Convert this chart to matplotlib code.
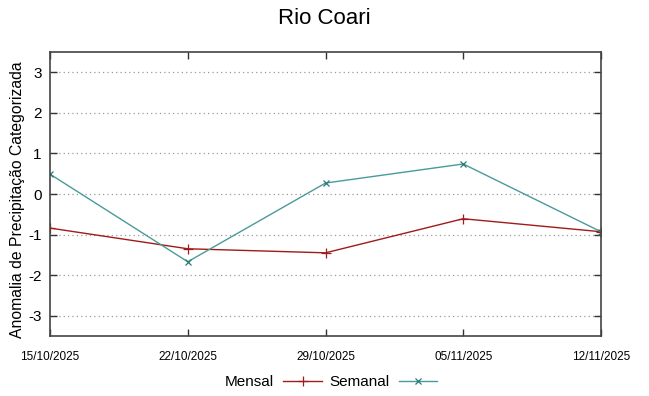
import matplotlib
matplotlib.use("Agg")
import matplotlib.pyplot as plt
from matplotlib.ticker import MultipleLocator

dates = ["15/10/2025", "22/10/2025", "29/10/2025", "05/11/2025", "12/11/2025"]
mensal = [-0.84, -1.35, -1.45, -0.61, -0.93]
semanal = [0.49, -1.67, 0.27, 0.74, -0.93]

plt.rcParams['font.family'] = ['Liberation Sans', 'DejaVu Sans']
plt.rcParams['axes.unicode_minus'] = False

fig = plt.figure(figsize=(6.49, 3.96), dpi=100)
ax = fig.add_axes([50/649, 1-336/396, 551/649, 284/396])

x = list(range(len(dates)))
ax.plot(x, mensal, color='#a11a1a', lw=1.0, marker='+', ms=7, mew=0.9, label='Mensal')
ax.plot(x, semanal, color='#4a9a9a', lw=1.0, marker='x', ms=5, mew=0.9, label='Semanal',
        markeredgecolor='#2a7a7a')

ax.set_xlim(0, 4)
ax.set_ylim(-3.5, 3.5)
ax.set_xticks(x)
ax.set_xticklabels(dates, fontsize=8.5)
ax.yaxis.set_major_locator(MultipleLocator(1))
ax.tick_params(axis='y', labelsize=11, pad=6)
ax.tick_params(direction='in', top=True, right=True, length=5, width=1, color='#333333')
ax.tick_params(axis='x', pad=11)
ax.grid(axis='y', linestyle=(0, (1, 2.5)), color='#999999', lw=0.9)
for s in ax.spines.values():
    s.set_color('#444444')
    s.set_linewidth(1.2)

ax.set_ylabel('Anomalia de Precipitação Categorizada', fontsize=11.3)
ax.yaxis.set_label_coords(-0.045, 0.48)
fig.text(0.5, 1-18/396, 'Rio Coari', ha='center', va='center', fontsize=16)

leg = fig.legend(loc='center', bbox_to_anchor=(0.51, 1-382/396), ncol=2, frameon=False,
                 markerfirst=False, fontsize=11, handlelength=2.5, columnspacing=0.5,
                 handletextpad=0.6)

fig.savefig('out.png', dpi=100)
